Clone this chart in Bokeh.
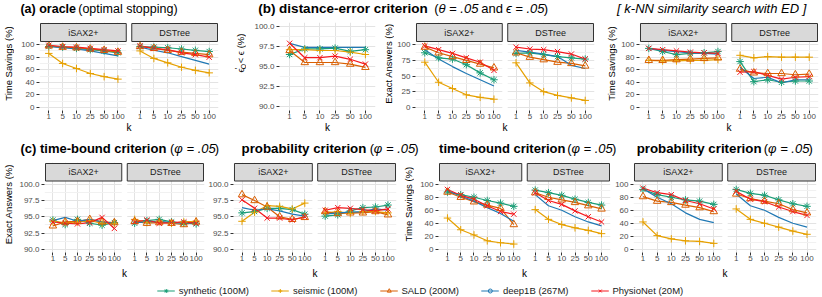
import math
import numpy as np
from bokeh.plotting import figure
from bokeh.models import Range1d, FixedTicker, ColumnDataSource, Legend, LegendItem
from bokeh.layouts import column, row
from bokeh.core.properties import value
from bokeh.embed import file_html
from bokeh.resources import INLINE

FONT = "Liberation Sans"

K_LABELS = ["1", "5", "10", "25", "50", "100"]
FACETS = ["iSAX2+", "DSTree"]
SERIES = ["synthetic (100M)", "seismic (100M)", "SALD (200M)", "deep1B (267M)", "PhysioNet (20M)"]
COLORS = ["#1B9E77", "#E6A000", "#D95F02", "#1F78B4", "#F5191E"]
MARKERS = ["asterisk", "cross", "triangle", None, "x"]

# rows of every table: synthetic, seismic, SALD, deep1B, PhysioNet ; columns: k = 1,5,10,25,50,100
oracle_isax = [
    [97, 96, 94, 92, 90, 87],
    [86, 70, 62, 54, 49, 45],
    [98, 96, 95, 93, 91, 88],
    [97, 95, 93, 90, 86, 82],
    [99, 97, 96, 94, 92, 90],
]
oracle_dstree = [
    [97, 96, 95, 93, 91, 89],
    [90, 78, 71, 64, 59, 55],
    [97, 94, 91, 88, 86, 84],
    [96, 91, 87, 81, 75, 69],
    [98, 94, 92, 87, 84, 80],
]
eps_error = [
    [96.5, 97.2, 97.2, 97.3, 96.9, 97.1],
    [97.1, 97.1, 97.0, 97.0, 96.8, 96.5],
    [97.0, 95.5, 95.5, 95.5, 95.3, 94.9],
    [97.9, 97.4, 97.4, 97.4, 97.4, 97.4],
    [97.9, 96.1, 96.1, 96.3, 95.9, 95.3],
]
exact_isax = [
    [87, 79, 77, 68, 55, 44],
    [72, 40, 30, 20, 16, 13],
    [96, 87, 81, 75, 69, 63],
    [92, 77, 65, 54, 44, 34],
    [98, 92, 86, 79, 72, 59],
]
exact_dstree = [
    [86, 87, 84, 81, 79, 77],
    [71, 39, 25, 19, 15, 11],
    [87, 80, 76, 72, 70, 66],
    [91, 88, 85, 81, 67, 62],
    [96, 93, 92, 89, 85, 77],
]
knn_isax = [
    [94, 89, 84, 86, 87, 89],
    [75, 74, 74, 75, 75, 76],
    [75, 75, 76, 77, 78, 79],
    [94, 91, 89, 87, 86, 85],
    [94, 92, 90, 88, 87, 86],
]
knn_dstree = [
    [73, 41, 44, 40, 42, 42],
    [83, 79, 81, 80, 80, 80],
    [61, 55, 54, 54, 52, 53],
    [64, 46, 48, 39, 44, 44],
    [56, 57, 51, 45, 48, 49],
]
tb_exact_isax = [
    [94.5, 93.8, 94.6, 94.0, 93.7, 94.1],
    [94.3, 94.1, 94.2, 94.4, 94.0, 94.0],
    [93.6, 94.2, 94.3, 94.6, 94.2, 94.1],
    [94.4, 94.9, 94.3, 94.6, 94.2, 94.0],
    [94.2, 94.0, 93.9, 94.1, 94.9, 93.2],
]
tb_exact_dstree = [
    [94.0, 94.4, 94.6, 94.2, 94.0, 93.9],
    [94.6, 94.1, 94.3, 94.0, 94.2, 94.3],
    [94.3, 94.0, 94.1, 94.0, 93.8, 94.2],
    [94.1, 94.2, 94.3, 94.1, 94.0, 94.1],
    [94.2, 94.5, 94.0, 94.1, 94.2, 94.0],
]
pr_exact_isax = [
    [95.6, 95.8, 96.3, 96.3, 96.1, 95.4],
    [94.3, 95.7, 96.7, 96.6, 96.2, 97.1],
    [98.4, 97.5, 96.5, 95.0, 94.6, 94.9],
    [96.4, 96.0, 96.2, 95.9, 95.4, 95.1],
    [97.6, 96.3, 94.8, 94.8, 94.5, 95.0],
]
pr_exact_dstree = [
    [95.1, 95.3, 95.9, 96.4, 96.5, 96.8],
    [95.6, 95.8, 95.5, 95.8, 95.8, 95.6],
    [95.8, 95.5, 95.6, 95.6, 95.8, 95.3],
    [95.4, 95.6, 95.7, 95.8, 96.2, 96.0],
    [96.0, 96.4, 96.3, 96.1, 95.9, 96.2],
]
tb_save_isax = [
    [88, 84, 80, 75, 71, 66],
    [48, 30, 22, 13, 10, 8],
    [88, 80, 73, 68, 63, 38],
    [90, 82, 74, 64, 55, 43],
    [92, 83, 77, 67, 58, 54],
]
tb_save_dstree = [
    [91, 87, 83, 77, 72, 68],
    [61, 46, 38, 33, 29, 24],
    [87, 80, 76, 72, 67, 62],
    [84, 67, 60, 50, 42, 36],
    [87, 75, 69, 59, 50, 42],
]
pr_save_isax = [
    [92, 84, 80, 76, 74, 69],
    [42, 21, 16, 13, 12, 9],
    [81, 74, 72, 68, 64, 58],
    [93, 80, 70, 56, 46, 41],
    [94, 87, 84, 75, 70, 62],
]
pr_save_dstree = [
    [92, 86, 83, 76, 70, 66],
    [62, 46, 40, 34, 28, 23],
    [85, 78, 74, 70, 61, 56],
    [85, 67, 60, 49, 40, 34],
    [89, 77, 73, 65, 58, 52],
]

TICKS_20 = [0, 20, 40, 60, 80, 100]
MINOR_20 = [10, 30, 50, 70, 90]
TICKS_25 = [0, 25, 50, 75, 100]
MINOR_25 = [12.5, 37.5, 62.5, 87.5]
TICKS_HI = [90, 92.5, 95, 97.5, 100]
MINOR_HI = [91.25, 93.75, 96.25, 98.75]
LABELS_HI = {90: "90.0", 92.5: "92.5", 95: "95.0", 97.5: "97.5", 100: "100.0"}

# ---------------------------------------------------------------- geometry (page pixels)
W_TOTAL, H_TOTAL = 822, 297
PAD = 1.0
BANDS = [0, 20, 138, 160, 281, 297]

REG = {' ': 278, '(': 333, ')': 333, '[': 278, ']': 278, '-': 333, '.': 278, '=': 584, '%': 889,
       '+': 584, '<': 584, 'a': 556, 'b': 556, 'c': 500, 'd': 556, 'e': 556, 'f': 278, 'g': 556,
       'h': 556, 'i': 222, 'j': 222, 'k': 500, 'l': 222, 'm': 833, 'n': 556, 'o': 556, 'p': 556,
       'q': 556, 'r': 333, 's': 500, 't': 278, 'u': 556, 'v': 500, 'w': 722, 'x': 500, 'y': 500,
       'z': 500, 'A': 667, 'D': 722, 'E': 667, 'N': 722, 'Q': 778, 'S': 667, 'T': 611,
       'θ': 556, 'ϵ': 440, 'φ': 650, '′': 190}
BOLD = {' ': 278, '(': 333, ')': 333, '-': 333, '.': 278, 'a': 556, 'b': 611, 'c': 556, 'd': 611,
        'e': 556, 'f': 333, 'g': 611, 'h': 611, 'i': 278, 'j': 278, 'k': 556, 'l': 278, 'm': 889,
        'n': 611, 'o': 611, 'p': 611, 'q': 611, 'r': 389, 's': 556, 't': 333, 'u': 611, 'v': 556,
        'w': 778, 'x': 556, 'y': 556, 'z': 500}


def text_w(s, style, size):
    tab = BOLD if style == "bold" else REG
    return sum(tab.get(ch, 556) for ch in s) * size / 1000.0


def blank_fig(w, h):
    p = figure(width=w, height=h, x_range=Range1d(start=0, end=w), y_range=Range1d(start=h, end=0),
               x_axis_location=None, y_axis_location=None, min_border=0,
               output_backend="svg", toolbar_location=None)
    p.outline_line_color = None
    p.grid.visible = False
    return p


def put_segments(p, x, y, segs, angle=0.0):
    """Lay out text pieces one after another (leading spaces become advances, SVG drops them)."""
    pos = 0.0
    for txt, style, sz, shift in segs:
        lead = len(txt) - len(txt.lstrip(" "))
        pos += text_w(" " * lead, style, sz)
        core = txt.strip(" ")
        if core:
            if angle == 0.0:
                px, py = x + pos, y + shift
            else:
                px, py = x + shift, y - pos
            p.text(x=[px], y=[py], text=[core], text_font=value(FONT), text_font_size=f"{sz}px",
                   text_font_style=style, text_baseline="middle", text_align="left",
                   text_color="black", angle=angle)
        pos += text_w(txt.lstrip(" "), style, sz)
    return pos


def style_axis(ax, standoff):
    ax.axis_line_color = None
    ax.major_tick_line_color = "#333333"
    ax.major_tick_out = 3
    ax.major_tick_in = 0
    ax.minor_tick_line_color = None
    ax.major_label_text_font = FONT
    ax.major_label_text_font_size = "8px"
    ax.major_label_text_color = "#4d4d4d"
    ax.major_label_standoff = standoff


def build_group(slot, band, fl, fw, gap, tables, top, strip, bot, ylo, yhi, yticks, yminor,
                ylabels=None, ytitle=None, ytitle_x=None, k_standoff=0, eps_title=False):
    """Returns a list of figures (optional y-title strip + the faceted panel figure)."""
    n = len(tables)
    has_strip = strip is not None
    t_px, b_px = band
    H = b_px - t_px
    figs = []
    sl, sr = slot
    panel_center = ((strip if has_strip else top) + bot) / 2.0
    if ytitle is not None or eps_title:
        tw = int(round(ytitle_x + 6.5) - sl)
        tf = blank_fig(tw, H)
        lx = ytitle_x - sl
        ly = panel_center - t_px
        if eps_title:
            m, s = 9.5, 7.0
            segs = [("ϵ", "normal", m, 0.0), ("Q", "normal", s, 2.5), (" < ϵ (%)", "normal", m, 0.0)]
            total = sum(text_w(t, st, z) for t, st, z, _ in segs)
            y0 = ly + total / 2.0
            put_segments(tf, lx, y0, segs, angle=math.pi / 2)
            w1 = text_w("ϵ", "normal", m)
            tf.text(x=[lx - 3.0], y=[y0 - w1], text=["′"], text_font=value(FONT), text_font_size=f"{s}px",
                    text_baseline="middle", text_align="left", text_color="black", angle=math.pi / 2)
        else:
            tf.text(x=[lx], y=[ly], text=[ytitle], text_font=value(FONT), text_font_size="9.5px",
                    text_baseline="middle", text_align="center", text_color="black", angle=math.pi / 2)
        figs.append(tf)
        sl = sl + tw
    W = sr - sl
    left_abs = int(round(fl - PAD))
    right_abs = int(round(fl + n * fw + (n - 1) * gap + PAD))
    bl = left_abs - sl
    br = sr - right_abs
    fw_px = right_abs - left_abs
    pad_top = PAD if has_strip else 0.0
    top_abs = int(round(top - pad_top))
    bot_abs = int(round(bot))
    bt = top_abs - t_px
    bb = b_px - bot_abs
    fh_px = bot_abs - top_abs
    facet_px = (fw_px - 2 * PAD - (n - 1) * gap) / n
    u = 6.2 / facet_px
    off = 6.2 + gap * u
    x0 = 0.4 - PAD * u
    x1 = 6.6 + (n - 1) * off + PAD * u
    strip_px = (strip - top) if has_strip else 0.0
    panel_px = fh_px - pad_top - strip_px
    e = 0.05 * (yhi - ylo)
    y0 = ylo - e
    y1 = yhi + e
    v = (y1 - y0) / panel_px
    ytop = y1 + (strip_px + pad_top) * v

    p = figure(width=W, height=H, x_range=Range1d(start=x0, end=x1), y_range=Range1d(start=y0, end=ytop),
               min_border_left=bl, min_border_right=br, min_border_top=bt, min_border_bottom=bb,
               output_backend="svg", toolbar_location=None)
    p.outline_line_color = None
    p.background_fill_color = "white"
    p.border_fill_color = "white"

    xt = [round(k + 1 + i * off, 6) for i in range(n) for k in range(6)]
    p.xaxis.ticker = FixedTicker(ticks=xt)
    p.xaxis.major_label_overrides = {t: K_LABELS[j % 6] for j, t in enumerate(xt)}
    p.xgrid.ticker = FixedTicker(ticks=xt)
    p.yaxis.ticker = FixedTicker(ticks=yticks, minor_ticks=yminor)
    p.ygrid.ticker = FixedTicker(ticks=yticks, minor_ticks=yminor)
    if ylabels:
        p.yaxis.major_label_overrides = ylabels
    style_axis(p.xaxis[0], 0)
    style_axis(p.yaxis[0], 1)
    p.xaxis.axis_label = "k"
    p.xaxis.axis_label_text_font = FONT
    p.xaxis.axis_label_text_font_size = "10px"
    p.xaxis.axis_label_text_font_style = "normal"
    p.xaxis.axis_label_text_color = "black"
    p.xaxis.axis_label_standoff = k_standoff
    p.xgrid.grid_line_color = "#e3e3e3"
    p.ygrid.grid_line_color = "#e3e3e3"
    p.ygrid.minor_grid_line_color = "#f1f1f1"

    for i in range(n - 1):
        p.quad(left=[6.6 + i * off], right=[0.4 + (i + 1) * off], bottom=[y0 - 50], top=[ytop + 50],
               fill_color="white", line_color=None)

    for i, tab in enumerate(tables):
        xs = xt[i * 6:(i + 1) * 6]
        for j in range(5):
            p.line(xs, tab[j], line_color=COLORS[j], line_width=1.2)
    for i, tab in enumerate(tables):
        xs = xt[i * 6:(i + 1) * 6]
        for j in range(5):
            if MARKERS[j]:
                p.scatter(xs, tab[j], marker=MARKERS[j], size=7.5, line_color=COLORS[j],
                          fill_color=None, line_width=1)

    if has_strip:
        sb = y1
        st = y1 + strip_px * v
        for i in range(n):
            p.quad(left=[0.4 + i * off], right=[6.6 + i * off], bottom=[sb], top=[st],
                   fill_color="#d9d9d9", line_color="#333333", line_width=1)
        p.text(x=[3.5 + i * off for i in range(n)], y=[(sb + st) / 2] * n, text=FACETS[:n],
               text_align="center", text_baseline="middle", text_font=value(FONT),
               text_font_size="9px", text_color="#1a1a1a")
    figs.append(p)
    return figs


def title_fig(top_px, bot_px, items):
    h = bot_px - top_px
    p = blank_fig(W_TOTAL, h)
    for x, y, size, segs in items:
        put_segments(p, x, y - top_px, [(t, st, size, 0.0) for t, st in segs])
    return p


PHI = [("(", "normal"), ("φ = .05", "italic"), (")", "normal")]

t1 = title_fig(BANDS[0], BANDS[1], [
    (2, 8, 12.5, [("(a) oracle", "bold"), (" (optimal stopping)", "normal")]),
    (245, 8, 13.5, [("(b) distance-error criterion", "bold")]),
    (425, 8, 13, [("(", "normal"), ("θ = .05", "italic"), (" and ", "normal"), ("ϵ = .05", "italic"),
                  (")", "normal")]),
    (612, 8, 13, [("[ k-NN similarity search with ED ]", "italic")]),
])
t2 = title_fig(BANDS[2], BANDS[3], [
    (2, 148, 13, [("(c) time-bound criterion", "bold")]),
    (155, 148, 13, PHI),
    (228, 148, 13.3, [("probability criterion", "bold")]),
    (359, 148, 13, PHI),
    (430, 148, 13, [("time-bound criterion", "bold")]),
    (561, 148, 13, PHI),
    (632, 148, 13.3, [("probability criterion", "bold")]),
    (762, 148, 13, PHI),
])

band1 = (BANDS[1], BANDS[2])
band2 = (BANDS[3], BANDS[4])

row1 = []
row1 += build_group((0, 225), band1, 40, 86, 5.5, [oracle_isax, oracle_dstree], 22.5, 40.5, 109.5,
                    0, 100, TICKS_20, MINOR_20, ytitle="Time Savings (%)", ytitle_x=8)
row1 += build_group((225, 380), band1, 280, 94, 0, [eps_error], 22.5, None, 109.5,
                    90, 100, TICKS_HI, MINOR_HI, ylabels=LABELS_HI, ytitle_x=240, eps_title=True)
row1 += build_group((380, 600), band1, 414, 86.5, 5.5, [exact_isax, exact_dstree], 22.5, 40.5, 109.5,
                    0, 100, TICKS_25, MINOR_25, ytitle="Exact Answers (%)", ytitle_x=388)
row1 += build_group((600, 822), band1, 639.5, 86, 5.5, [knn_isax, knn_dstree], 22.5, 40.5, 109.5,
                    0, 100, TICKS_20, MINOR_20, ytitle="Time Savings (%)", ytitle_x=611)

row2 = []
row2 += build_group((0, 205), band2, 45, 76.5, 5.5, [tb_exact_isax, tb_exact_dstree], 163, 180.5, 251.5,
                    90, 100, TICKS_HI, MINOR_HI, ylabels=LABELS_HI, ytitle="Exact Answers (%)",
                    ytitle_x=8, k_standoff=4)
row2 += build_group((205, 399), band2, 230, 79.5, 5.5, [pr_exact_isax, pr_exact_dstree], 163, 180.5, 251.5,
                    90, 100, TICKS_HI, MINOR_HI, ylabels=LABELS_HI, k_standoff=4)
row2 += build_group((399, 612), band2, 439, 82, 5.5, [tb_save_isax, tb_save_dstree], 163, 180.5, 251.5,
                    0, 100, TICKS_20, MINOR_20, ytitle="Time Savings (%)", ytitle_x=408, k_standoff=4)
row2 += build_group((612, 822), band2, 632, 89, 5.5, [pr_save_isax, pr_save_dstree], 163, 180.5, 251.5,
                    0, 100, TICKS_20, MINOR_20, k_standoff=4)

# legend strip
leg_top = BANDS[4]
leg_h = BANDS[5] - leg_top
lg = figure(width=W_TOTAL, height=leg_h, x_range=Range1d(start=0, end=1), y_range=Range1d(start=0, end=1),
            x_axis_location=None, y_axis_location=None,
            min_border_left=int(round(2 * 420 - W_TOTAL)), min_border_right=0,
            min_border_top=max(0, int(round(2 * (290 - leg_top) - leg_h))), min_border_bottom=0,
            output_backend="svg", toolbar_location=None)
lg.outline_line_color = None
lg.grid.visible = False
nan_src = ColumnDataSource(dict(x=np.array([np.nan]), y=np.array([np.nan])))
items = []
for j, name in enumerate(SERIES):
    rl = lg.line("x", "y", source=nan_src, line_color=COLORS[j], line_width=1.2)
    rs = lg.scatter("x", "y", source=nan_src, marker=MARKERS[j] or "circle", size=7.5,
                    line_color=COLORS[j], fill_color=None, line_width=1)
    items.append(LegendItem(label=name, renderers=[rl, rs]))
legend = Legend(items=items, orientation="horizontal", location="center",
                label_text_font=FONT, label_text_font_size="9.5px", label_text_color="#1a1a1a",
                glyph_width=18, glyph_height=10, label_height=10, label_standoff=4, spacing=22,
                padding=0, margin=0, border_line_color=None, background_fill_alpha=0)
lg.add_layout(legend, "center")

layout = column(t1, row(*row1), t2, row(*row2), lg)

open("out.html", "w").write(file_html(layout, INLINE))
